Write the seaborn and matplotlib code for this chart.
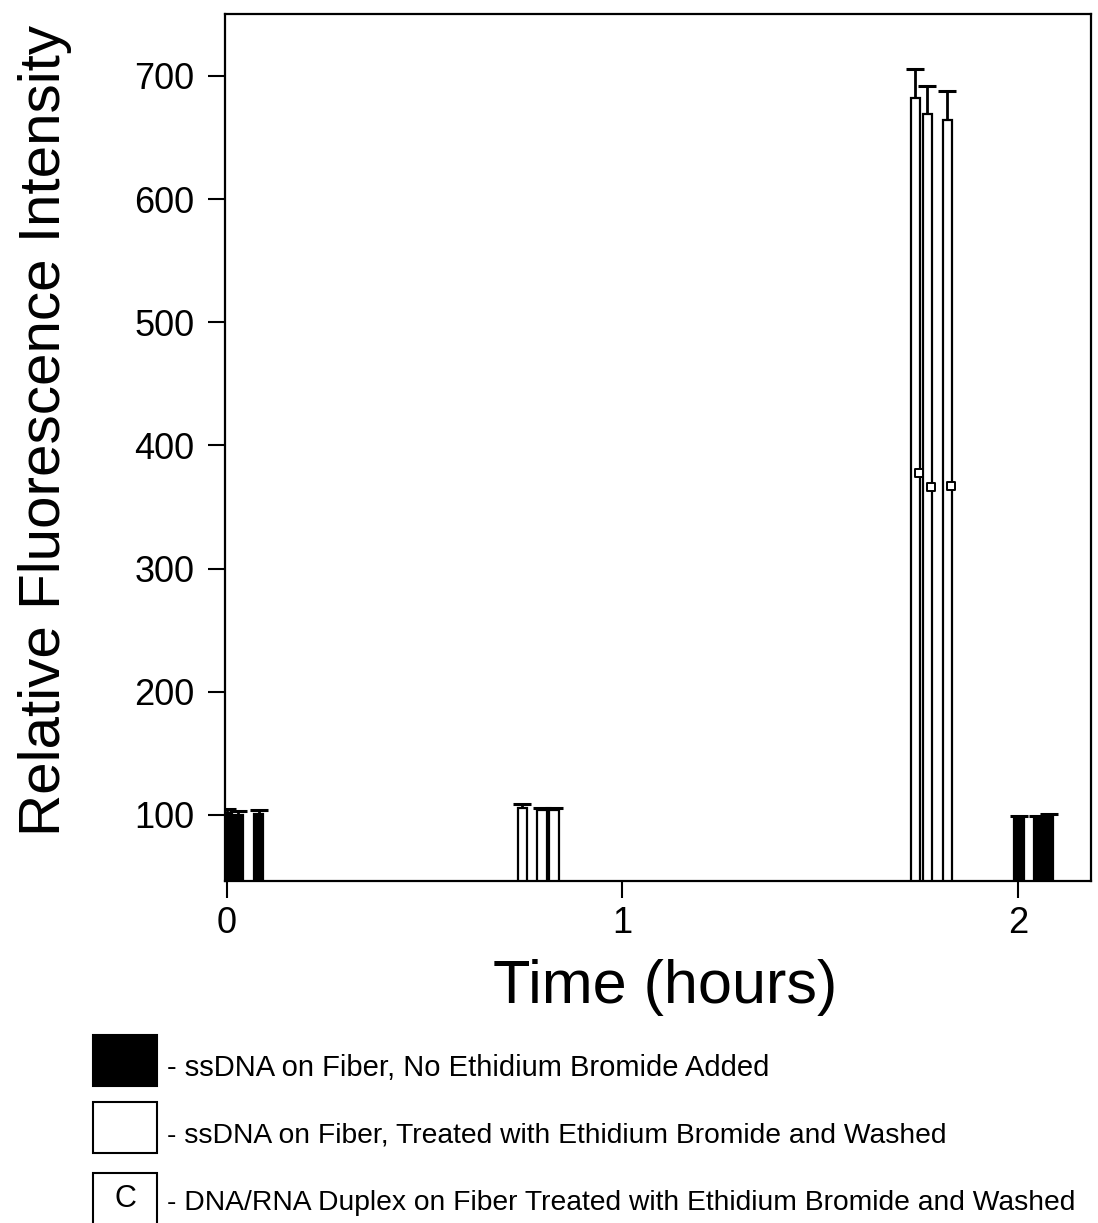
import matplotlib
matplotlib.use("Agg")
import matplotlib.pyplot as plt
from matplotlib.patches import Rectangle
import seaborn as sns
import numpy as np
import pandas as pd

# ---- data ----
bar_time = [0.000, 0.029, 0.080,
            0.747, 0.797, 0.827,
            1.741, 1.771, 1.822,
            2.003, 2.052, 2.078]
bar_value = [102, 100, 101,
             105.5, 104, 104,
             682, 669, 664,
             97, 97.5, 100]
bar_err = [3, 3, 3,
           3.5, 2, 2,
           24, 23, 24,
           2, 1.5, 1]
bar_series = ["none", "none", "none",
              "ethidium", "ethidium", "ethidium",
              "ethidium", "ethidium", "ethidium",
              "none", "none", "none"]

duplex_time = [1.749, 1.780, 1.830]
duplex_value = [378, 366, 367]

x_ticks = [0, 1, 2]
y_ticks = [100, 200, 300, 400, 500, 600, 700]

legend_labels = ["- ssDNA on Fiber, No Ethidium Bromide Added",
                 "- ssDNA on Fiber, Treated with Ethidium Bromide and Washed",
                 "- DNA/RNA Duplex on Fiber Treated with Ethidium Bromide and Washed"]

sns.set_theme(style="ticks")
plt.rcParams['font.family'] = ['Liberation Sans', 'DejaVu Sans']

fig = plt.figure(figsize=(10.98, 12.23), dpi=100)
W, H = 1098, 1223
ax = fig.add_axes([225 / W, 1 - 881 / H, (1091 - 225) / W, (881 - 14) / H])

df = pd.DataFrame({"time": bar_time, "value": bar_value, "err": bar_err, "series": bar_series})
face = {"none": "black", "ethidium": "white"}
ax.bar(df["time"], df["value"], width=0.024,
       color=[face[s] for s in df["series"]], edgecolor="black", linewidth=1.6, zorder=2)
eb = ax.errorbar(df["time"], df["value"], yerr=[np.zeros(len(df)), df["err"]],
                 fmt="none", ecolor="black", elinewidth=2, capsize=6.5, capthick=2.2, zorder=3)
# keep only the upper caps
eb[1][0].set_visible(False)

ddf = pd.DataFrame({"time": duplex_time, "value": duplex_value})
sns.scatterplot(data=ddf, x="time", y="value", marker="s", s=28, color="white",
                edgecolor="black", linewidth=1.4, ax=ax, zorder=4, legend=False)

ax.set_xlim(-0.005, 2.185)
ax.set_ylim(46.4, 750.3)
ax.set_xticks(x_ticks)
ax.set_yticks(y_ticks)
ax.set_xticklabels([str(t) for t in x_ticks], fontsize=26)
ax.set_yticklabels([str(t) for t in y_ticks], fontsize=26)
ax.tick_params(axis="y", direction="out", length=12, width=1.5, pad=10, colors="black")
ax.tick_params(axis="x", direction="out", length=12, width=1.5, pad=6, colors="black")
for sp in ax.spines.values():
    sp.set_linewidth(1.6)
    sp.set_color("black")

ax.set_xlabel("")
ax.set_ylabel("")
fig.text(665 / W, 1 - 987 / H, "Time (hours)", fontsize=44,
         ha="center", va="center", color="black")
fig.text(45 / W, 1 - 430 / H, "Relative Fluorescence Intensity", rotation=90,
         fontsize=42, ha="center", va="center", color="black")

# legend drawn under the chart
boxes = [(1035, 1086, "black", "", 1068, 21), (1102, 1153, "white", "", 1135, 20.3),
         (1173, 1240, "white", "C", 1203, 20.3)]
for (y0, y1, fc, lab, ty, fs), text in zip(boxes, legend_labels):
    fig.add_artist(Rectangle((93 / W, 1 - y1 / H), (157 - 93) / W, (y1 - y0) / H,
                             transform=fig.transFigure, facecolor=fc,
                             edgecolor="black", linewidth=1.5))
    if lab:
        fig.text(125 / W, 1 - 1199 / H, lab, fontsize=22, ha="center", va="center", color="black")
    fig.text(167 / W, 1 - ty / H, text, fontsize=fs, ha="left", va="center", color="black")

fig.savefig("out.png", dpi=100, facecolor="white")
